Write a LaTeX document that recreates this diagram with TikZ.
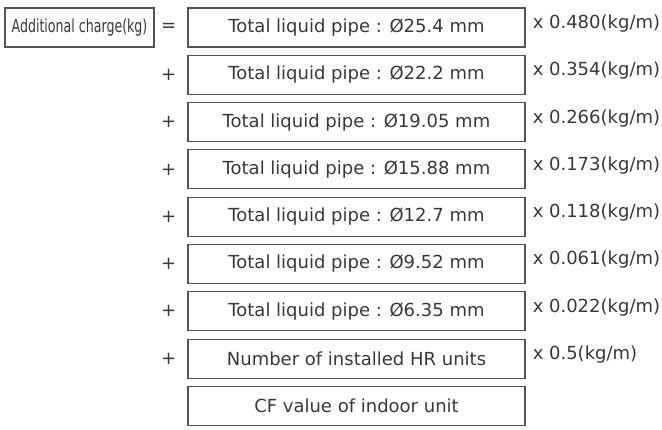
\documentclass[tikz,border=0pt]{standalone}
\usepackage{fontspec}
\usepackage{graphicx}
\setmainfont{DejaVu Sans}
\usetikzlibrary{positioning}
\definecolor{linegray}{HTML}{555555}
\definecolor{textgray}{HTML}{383838}
\begin{document}
\begin{tikzpicture}[x=1pt, y=-1pt, font=\fontsize{18}{20}\selectfont, text=textgray,
	pipebox/.style={draw=linegray, line width=1.1pt, minimum width=337pt, minimum height=39pt, inner sep=0pt},
	factor/.style={anchor=base west, inner sep=0pt}]
	\useasboundingbox (0,0) rectangle (662,429);
	%left side
	\node[pipebox, minimum width=149pt] (charge) at (79.5,27.5)
	{\scalebox{0.7}[1]{Additional charge(kg)}};
	%pipes
	\foreach \txt/\fac [count=\i from 0] in {
		{Total liquid pipe : Ø25.4 mm}/0.480,
		{Total liquid pipe : Ø22.2 mm}/0.354,
		{Total liquid pipe : Ø19.05 mm}/0.266,
		{Total liquid pipe : Ø15.88 mm}/0.173,
		{Total liquid pipe : Ø12.7 mm}/0.118,
		{Total liquid pipe : Ø9.52 mm}/0.061,
		{Total liquid pipe : Ø6.35 mm}/0.022,
		{Number of installed HR units}/0.5}
	{
		\node[pipebox] (pipe\i) at (356.5, 27.5+47.3*\i) {\txt};
		\node[factor] (fac\i) at ([xshift=7pt, yshift=-21pt]pipe\i.north east) {x \fac(kg/m)};
	}
	\node[pipebox] (cf) at (356.5, 27.5+47.3*8) {CF value of indoor unit};
	%signs
	\node[left=11pt of pipe0, inner sep=0pt] (eq) {=};
	\foreach \i in {1,...,7}
	\node[left=11pt of pipe\i, inner sep=0pt] (plus\i) {+};
\end{tikzpicture}
\end{document}
